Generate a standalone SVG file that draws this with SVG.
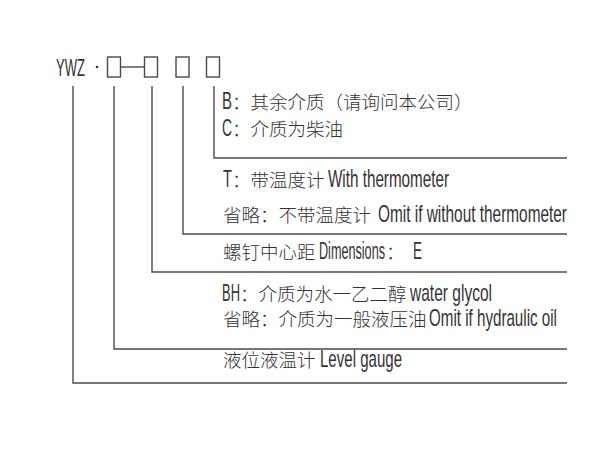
<svg xmlns="http://www.w3.org/2000/svg" width="600" height="450" viewBox="0 0 600 450">
<style>
.t{font-family:"Noto Sans CJK SC","Noto Sans",sans-serif;font-size:18.5px;font-weight:300;fill:#333}
.en{font-family:"Liberation Sans","DejaVu Sans",sans-serif;font-size:23px;fill:#333}
.ln{stroke:#4a4a4a;stroke-width:1.4;fill:none}
.bx{stroke:#4a4a4a;stroke-width:1.4;fill:none}
</style>
<rect width="600" height="450" fill="#fff"/>
<g id="header">
<text class="en" transform="translate(56,76) scale(0.567,1)" textLength="51.1" lengthAdjust="spacingAndGlyphs">YWZ</text>
<circle cx="97" cy="67" r="1.3" fill="#333"/>
<rect class="bx" x="107.5" y="57" width="13" height="20"/>
<line class="ln" x1="121" y1="67" x2="144" y2="67"/>
<rect class="bx" x="144.5" y="57" width="13" height="20"/>
<rect class="bx" x="176" y="57" width="13" height="20"/>
<rect class="bx" x="206.5" y="57" width="13" height="20"/>
</g>
<g id="connectors">
<polyline class="ln" points="73,86 73,383 567,383"/>
<polyline class="ln" points="114,86 114,349 567,349"/>
<polyline class="ln" points="152,86 152,272 567,272"/>
<polyline class="ln" points="183,86 183,234 567,234"/>
<polyline class="ln" points="214,86 214,158 567,158"/>
</g>
<g id="medium">
<text class="en" font-size="20" transform="translate(222,109) scale(0.75,1)" textLength="13.3" lengthAdjust="spacingAndGlyphs">B</text>
<text class="t" x="232" y="109">：其余介质（请询问本公司）</text>
<text class="en" font-size="20" transform="translate(222,136) scale(0.69,1)" textLength="14.5" lengthAdjust="spacingAndGlyphs">C</text>
<text class="t" x="232" y="136">：介质为柴油</text>
</g>
<g id="thermometer">
<text class="en" transform="translate(223,187) scale(0.64,1)" textLength="14" lengthAdjust="spacingAndGlyphs">T</text>
<text class="t" x="232" y="187">：带温度计</text>
<text class="en" transform="translate(328,187) scale(0.662,1)" textLength="182.8" lengthAdjust="spacingAndGlyphs">With thermometer</text>
<text class="t" x="223" y="222">省略：不带温度计</text>
<text class="en" transform="translate(378,222) scale(0.669,1)" textLength="282.5" lengthAdjust="spacingAndGlyphs">Omit if without thermometer</text>
</g>
<g id="dimensions">
<text class="t" x="223" y="259">螺钉中心距</text>
<text class="en" transform="translate(319,259) scale(0.55,1)" textLength="120" lengthAdjust="spacingAndGlyphs">Dimensions</text>
<text class="t" x="386" y="259">：</text>
<text class="en" transform="translate(413,259) scale(0.59,1)" textLength="15.3" lengthAdjust="spacingAndGlyphs">E</text>
</g>
<g id="fluid">
<text class="en" transform="translate(222,301) scale(0.56,1)" textLength="32.1" lengthAdjust="spacingAndGlyphs">BH</text>
<text class="t" x="240" y="301">：介质为水一乙二醇</text>
<text class="en" transform="translate(410,301) scale(0.675,1)" textLength="121.5" lengthAdjust="spacingAndGlyphs">water glycol</text>
<text class="t" x="223" y="326">省略：介质为一般液压油</text>
<text class="en" transform="translate(429,326) scale(0.659,1)" textLength="194.2" lengthAdjust="spacingAndGlyphs">Omit if hydraulic oil</text>
</g>
<g id="gauge">
<text class="t" x="223" y="367">液位液温计</text>
<text class="en" transform="translate(320,367) scale(0.654,1)" textLength="125.4" lengthAdjust="spacingAndGlyphs">Level gauge</text>
</g>
</svg>
